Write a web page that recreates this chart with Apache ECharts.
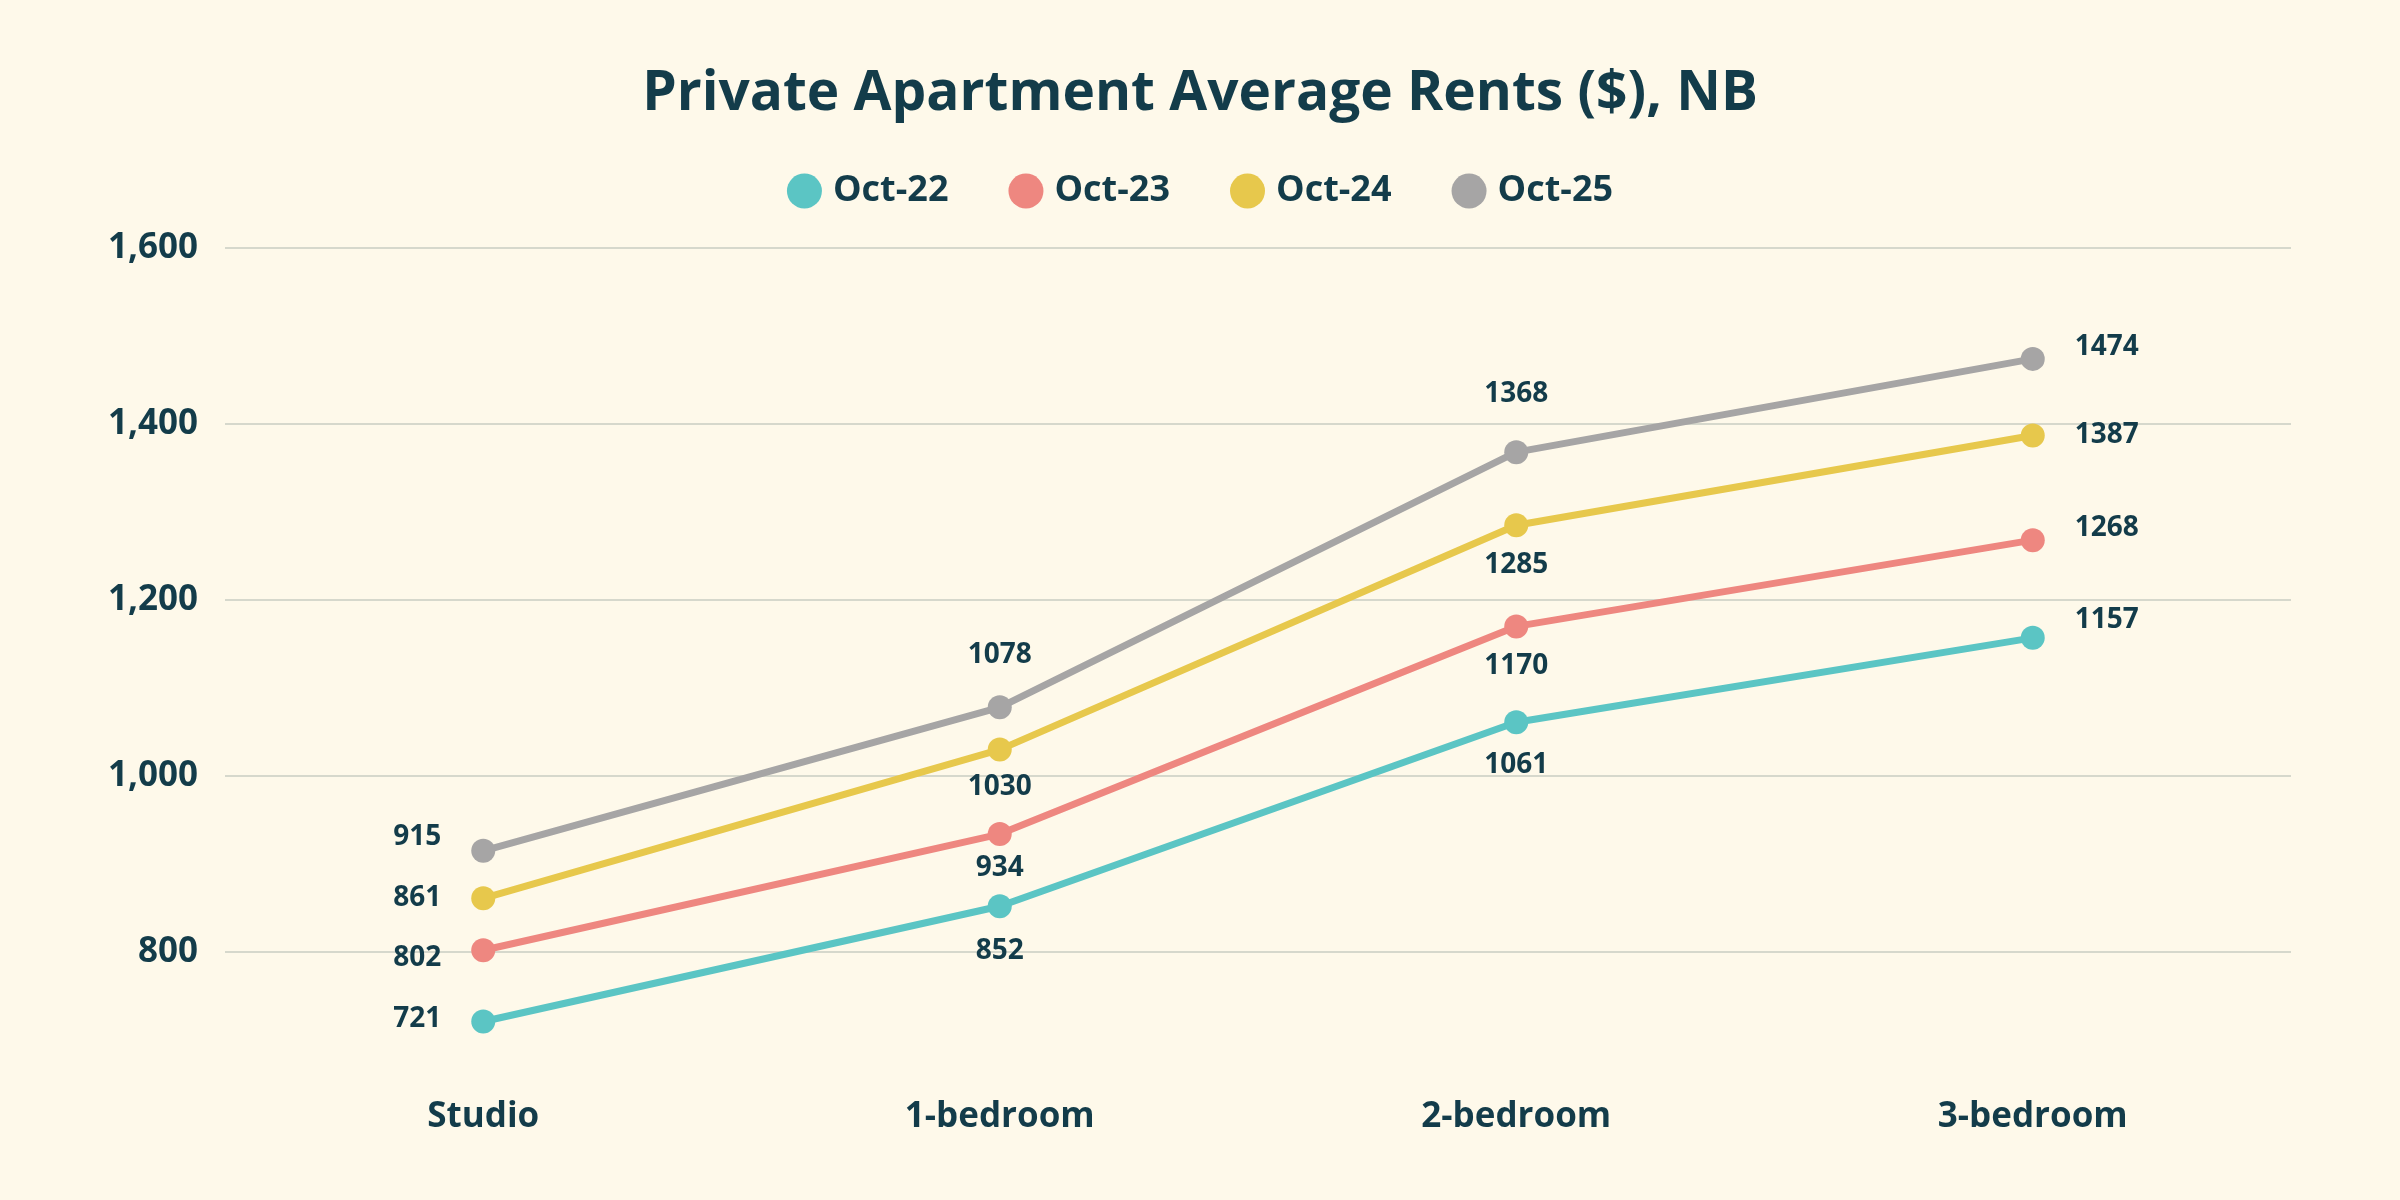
<!DOCTYPE html>
<html>
<head>
<meta charset="utf-8">
<title>Private Apartment Average Rents ($), NB</title>
<script src="https://cdn.jsdelivr.net/npm/echarts@6/dist/echarts.min.js"></script>
<style>
  html, body { margin: 0; padding: 0; background: #fef9ea; }
  #main { width: 2400px; height: 1200px; }
</style>
</head>
<body>
<div id="main"></div>
<script>
var categories = ['Studio', '1-bedroom', '2-bedroom', '3-bedroom'];
var seriesNames = ['Oct-22', 'Oct-23', 'Oct-24', 'Oct-25'];
var oct22 = [721, 852, 1061, 1157];
var oct23 = [802, 934, 1170, 1268];
var oct24 = [861, 1030, 1285, 1387];
var oct25 = [915, 1078, 1368, 1474];
var values = [oct22, oct23, oct24, oct25];

var colors = ['#5bc5c4', '#ee8780', '#e7c84c', '#a6a5a5'];
var textColor = '#133c4a';
var font = '"Open Sans", sans-serif';

// where each data label sits: [position, distance, offsetY] per series, per category
var labelPlace = [
    [['left', 30, -2], ['bottom', 19, 0], ['bottom', 17, 0], ['right', 30, -18]],
    [['left', 30, 8], ['bottom', 8, 0], ['bottom', 14, 0], ['right', 30, -12]],
    [['left', 30, 0], ['bottom', 11, 0], ['bottom', 14, 0], ['right', 30, 0]],
    [['left', 30, -14], ['top', 26, 0], ['top', 32, 0], ['right', 30, -12]]
];

var myChart = echarts.init(document.getElementById('main'));

var series = [];
for (let s = 0; s < seriesNames.length; s++) {
    let items = [];
    for (let i = 0; i < categories.length; i++) {
        let p = labelPlace[s][i];
        items.push({
            value: values[s][i],
            label: { position: p[0], distance: p[1], offset: [0, p[2]] }
        });
    }
    series.push({
        name: seriesNames[s],
        type: 'line',
        data: items,
        symbol: 'circle',
        symbolSize: 24,
        lineStyle: { width: 7, color: colors[s] },
        itemStyle: { color: colors[s] },
        label: {
            show: true,
            color: textColor,
            fontFamily: font,
            fontWeight: 'bold',
            fontSize: 28
        },
        emphasis: { disabled: true },
        z: 2 + s
    });
}

var option = {
    backgroundColor: '#fef9ea',
    animation: false,
    textStyle: { fontFamily: font },
    title: {
        text: 'Private Apartment Average Rents ($), NB',
        left: 'center',
        top: 62,
        textStyle: {
            color: textColor,
            fontFamily: font,
            fontWeight: 'bold',
            fontSize: 55
        }
    },
    legend: {
        top: 168,
        left: 'center',
        icon: 'circle',
        itemWidth: 35,
        itemHeight: 35,
        itemGap: 60,
        data: seriesNames,
        textStyle: {
            color: textColor,
            fontFamily: font,
            fontWeight: 'bold',
            fontSize: 36,
            padding: [0, 0, 0, 6]
        }
    },
    grid: {
        left: 225,
        right: 109,
        top: 248,
        bottom: 72,
        containLabel: false
    },
    xAxis: {
        type: 'category',
        data: categories,
        boundaryGap: true,
        axisLine: { show: false },
        axisTick: { show: false },
        axisLabel: {
            margin: -28,
            color: textColor,
            fontFamily: font,
            fontWeight: 'bold',
            fontSize: 35
        }
    },
    yAxis: {
        type: 'value',
        min: 600,
        max: 1600,
        interval: 200,
        axisLine: { show: false },
        axisTick: { show: false },
        splitLine: {
            show: true,
            showMinLine: false,
            lineStyle: { color: '#d6d8cc', width: 2 }
        },
        axisLabel: {
            showMinLabel: false,
            margin: 27,
            color: textColor,
            fontFamily: font,
            fontWeight: 'bold',
            fontSize: 35,
            formatter: function (v) {
                return v.toLocaleString('en-US');
            }
        }
    },
    series: series
};

myChart.setOption(option);
</script>
</body>
</html>
